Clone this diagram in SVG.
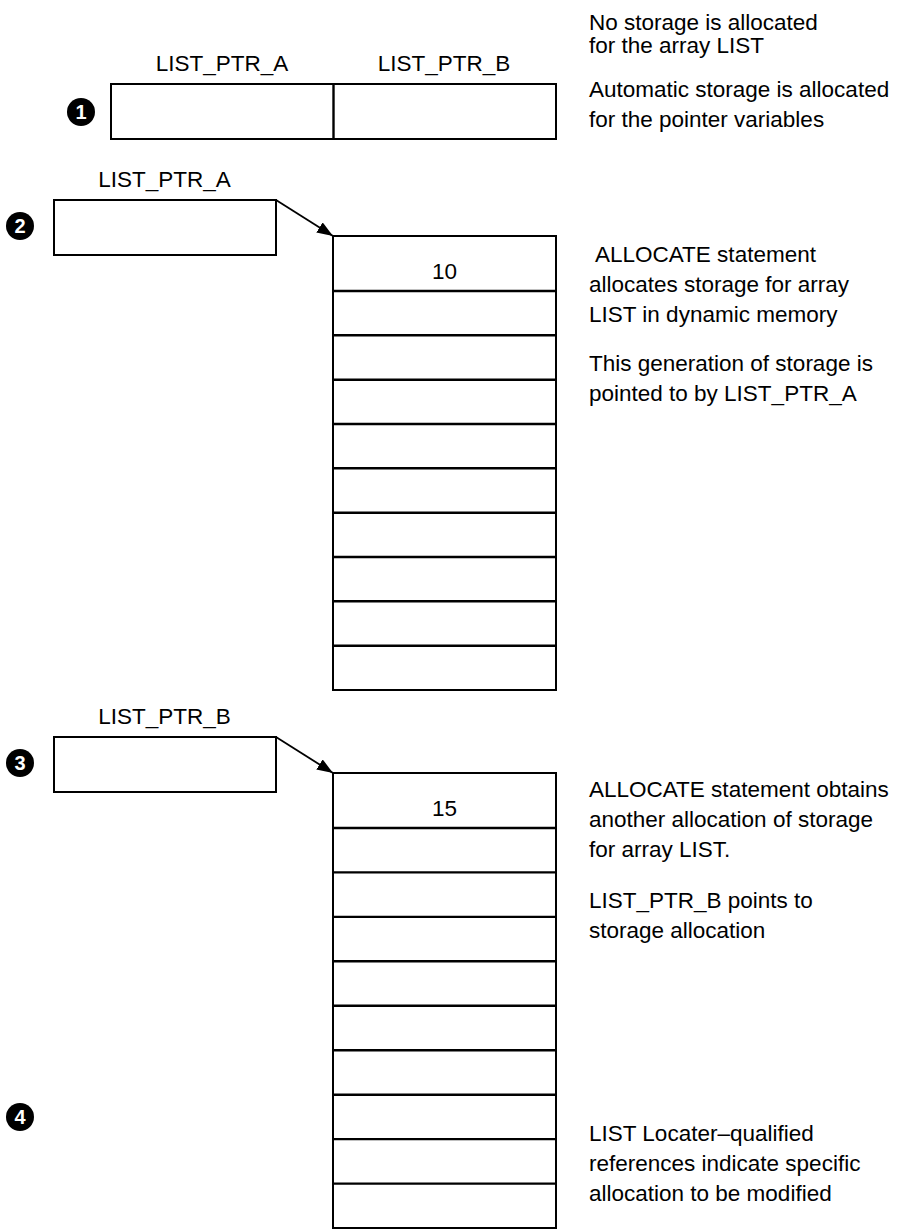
<svg xmlns="http://www.w3.org/2000/svg" width="898" height="1231" viewBox="0 0 898 1231">
  <style>
    .box { fill: #fff; stroke: #000; stroke-width: 2; }
    .row { stroke: #000; stroke-width: 2.4; }
    .lbl { font-family: "Liberation Sans", Arial, sans-serif; font-size: 22.5px; fill: #000; }
    .mid { text-anchor: middle; }
    .badge { fill: #000; }
    .num { font-family: "Liberation Sans", Arial, sans-serif; font-size: 20px; font-weight: bold; fill: #fff; text-anchor: middle; }
    .conn { stroke: #000; stroke-width: 1.8; fill: none; }
  </style>
  <defs>
    <marker id="arrow" viewBox="0 0 16 12" refX="16" refY="6" markerWidth="16" markerHeight="12" markerUnits="userSpaceOnUse" orient="auto">
      <path d="M0,0 L16,6 L0,12 Z" fill="#000"/>
    </marker>
  </defs>

  <!-- step 1: pointer variables, no array storage yet -->
  <g id="step1">
    <circle class="badge" cx="81" cy="112" r="14"/>
    <text class="num" x="81" y="119">1</text>
    <text class="lbl mid" x="222" y="71">LIST_PTR_A</text>
    <text class="lbl mid" x="444" y="71">LIST_PTR_B</text>
    <rect class="box" x="111" y="84" width="445" height="55"/>
    <line class="row" x1="333.5" y1="84" x2="333.5" y2="139"/>
  </g>

  <!-- step 2: LIST_PTR_A and the first generation of LIST -->
  <g id="step2-ptr">
    <circle class="badge" cx="20" cy="226" r="14"/>
    <text class="num" x="20" y="233">2</text>
    <text class="lbl mid" x="164.5" y="187">LIST_PTR_A</text>
    <rect class="box" x="54" y="200" width="222" height="55"/>
  </g>
  <g id="list-gen1">
    <rect class="box" x="333" y="236" width="223" height="454"/>
    <text class="lbl mid" x="444.5" y="279">10</text>
    <line class="row" x1="333" y1="291" x2="556" y2="291"/>
    <line class="row" x1="333" y1="335.3" x2="556" y2="335.3"/>
    <line class="row" x1="333" y1="379.7" x2="556" y2="379.7"/>
    <line class="row" x1="333" y1="424" x2="556" y2="424"/>
    <line class="row" x1="333" y1="468.3" x2="556" y2="468.3"/>
    <line class="row" x1="333" y1="512.7" x2="556" y2="512.7"/>
    <line class="row" x1="333" y1="557" x2="556" y2="557"/>
    <line class="row" x1="333" y1="601.3" x2="556" y2="601.3"/>
    <line class="row" x1="333" y1="645.7" x2="556" y2="645.7"/>
  </g>

  <!-- step 3: LIST_PTR_B and the second generation of LIST -->
  <g id="step3-ptr">
    <circle class="badge" cx="20" cy="763" r="14"/>
    <text class="num" x="20" y="770">3</text>
    <text class="lbl mid" x="164.5" y="724">LIST_PTR_B</text>
    <rect class="box" x="54" y="737" width="222" height="55"/>
  </g>
  <g id="list-gen2">
    <rect class="box" x="333" y="773" width="223" height="455"/>
    <text class="lbl mid" x="444.5" y="816">15</text>
    <line class="row" x1="333" y1="828" x2="556" y2="828"/>
    <line class="row" x1="333" y1="872.4" x2="556" y2="872.4"/>
    <line class="row" x1="333" y1="916.9" x2="556" y2="916.9"/>
    <line class="row" x1="333" y1="961.3" x2="556" y2="961.3"/>
    <line class="row" x1="333" y1="1005.8" x2="556" y2="1005.8"/>
    <line class="row" x1="333" y1="1050.2" x2="556" y2="1050.2"/>
    <line class="row" x1="333" y1="1094.7" x2="556" y2="1094.7"/>
    <line class="row" x1="333" y1="1139.1" x2="556" y2="1139.1"/>
    <line class="row" x1="333" y1="1183.6" x2="556" y2="1183.6"/>
  </g>

  <!-- step 4 marker -->
  <g id="step4">
    <circle class="badge" cx="20" cy="1117" r="14"/>
    <text class="num" x="20" y="1124">4</text>
  </g>

  <!-- pointer connectors -->
  <g id="connectors">
    <line class="conn" x1="276" y1="200" x2="333" y2="236" marker-end="url(#arrow)"/>
    <line class="conn" x1="276" y1="737" x2="333" y2="773" marker-end="url(#arrow)"/>
  </g>

  <!-- explanatory notes -->
  <g id="notes" class="lbl">
    <text x="589" y="30">No storage is allocated</text>
    <text x="589" y="53">for the array LIST</text>
    <text x="589" y="97">Automatic storage is allocated</text>
    <text x="589" y="127">for the pointer variables</text>
    <text x="595" y="262">ALLOCATE statement</text>
    <text x="589" y="292">allocates storage for array</text>
    <text x="589" y="322">LIST in dynamic memory</text>
    <text x="589" y="371">This generation of storage is</text>
    <text x="589" y="401">pointed to by LIST_PTR_A</text>
    <text x="589" y="797">ALLOCATE statement obtains</text>
    <text x="589" y="827">another allocation of storage</text>
    <text x="589" y="857">for array LIST.</text>
    <text x="589" y="908">LIST_PTR_B points to</text>
    <text x="589" y="938">storage allocation</text>
    <text x="589" y="1141">LIST Locater–qualified</text>
    <text x="589" y="1171">references indicate specific</text>
    <text x="589" y="1201">allocation to be modified</text>
  </g>
</svg>
